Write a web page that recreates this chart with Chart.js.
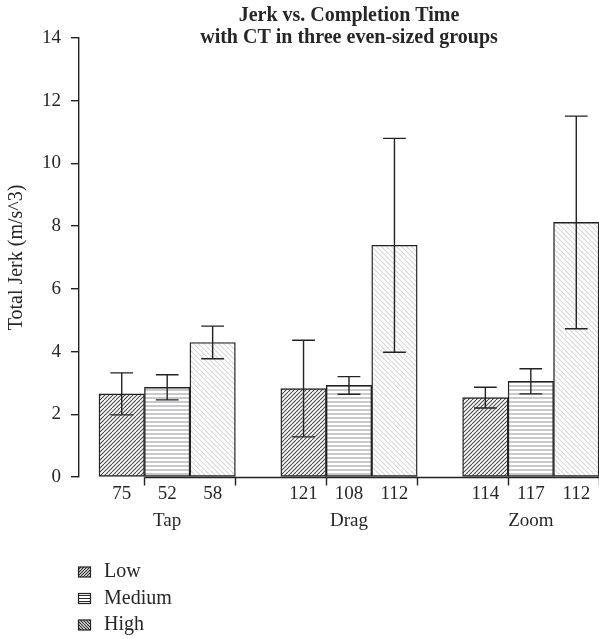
<!DOCTYPE html>
<html>
<head>
<meta charset="utf-8">
<script src="https://cdn.jsdelivr.net/npm/chart.js@4.4.1/dist/chart.umd.min.js"></script>
<style>
  html, body { margin: 0; padding: 0; background: #fff; overflow: hidden; }
  #wrap { width: 599px; height: 639px; overflow: hidden; position: relative; }
  canvas { display: block; }
</style>
</head>
<body>
<div id="wrap"><canvas id="c" width="619" height="639"></canvas></div>
<script>
// ---------------- data ----------------
const groups = ['Tap', 'Drag', 'Zoom'];
const levels = ['Low', 'Medium', 'High'];
const lowMeans    = [2.65, 2.82, 2.53];
const mediumMeans = [2.86, 2.92, 3.05];
const highMeans   = [4.29, 7.39, 8.12];
const lowErrors    = [0.67, 1.54, 0.33];
const mediumErrors = [0.40, 0.28, 0.40];
const highErrors   = [0.52, 3.41, 3.39];
const lowCounts    = [75, 121, 114];
const mediumCounts = [52, 108, 117];
const highCounts   = [58, 112, 112];
const yMin = 0, yMax = 14, yStep = 2;
const titleLines = ['Jerk vs. Completion Time', 'with CT in three even-sized groups'];
const yTitle = 'Total Jerk (m/s^3)';

// ---------------- helpers ----------------
const FONT = 'Liberation Serif';
const TEXT = '#262626';
const LINE = '#222';
const means = [lowMeans, mediumMeans, highMeans];
const errors = [lowErrors, mediumErrors, highErrors];
const counts = [lowCounts, mediumCounts, highCounts];
const slot = (gi, li) => gi * (levels.length + 1) + li + 1;

const positions = [];
const labelMap = {};
groups.forEach((g, gi) => levels.forEach((l, li) => {
  const p = slot(gi, li);
  positions.push(p);
  labelMap[p] = li === 1 ? [String(counts[li][gi]), g] : String(counts[li][gi]);
}));
positions.sort((a, b) => a - b);
const boundaries = [];
groups.forEach((g, gi) => { boundaries.push(slot(gi, 0) + 0.5, slot(gi, levels.length - 1) + 0.5); });
const firstEdge = slot(0, 0) - 0.5, lastEdge = slot(groups.length - 1, levels.length - 1) + 0.5;
const xPad = 0.04 * (lastEdge - firstEdge);

const baseCtx = document.getElementById('c').getContext('2d');
function makeHatch(kind, period, color, width, size) {
  const S = size || period * 2;
  const t = document.createElement('canvas');
  t.width = S; t.height = S;
  const c = t.getContext('2d');
  c.fillStyle = '#fff'; c.fillRect(0, 0, S, S);
  c.strokeStyle = color; c.lineWidth = width;
  c.beginPath();
  if (kind === 'h') {
    for (let y = period / 2; y < S + period; y += period) { c.moveTo(0, y); c.lineTo(S, y); }
  } else if (kind === '/') {
    for (let k = -S; k <= 3 * S; k += period) { c.moveTo(k, 0); c.lineTo(k - S, S); }
  } else {
    for (let k = -2 * S; k <= 2 * S; k += period) { c.moveTo(k, 0); c.lineTo(k + S, S); }
  }
  c.stroke();
  return baseCtx.createPattern(t, 'repeat');
}
const barPatterns = [
  makeHatch('/', 4, '#4d4d4d', 1.1, 8),
  makeHatch('h', 4, '#b8b8bc', 1.3, 8),
  makeHatch('\\', 5, '#d6d6d6', 1.1, 10)
];
const legendPatterns = [
  makeHatch('/', 3, '#2a2a2a', 1.2, 6),
  makeHatch('h', 3, '#2a2a2a', 1.1, 6),
  makeHatch('\\', 3, '#2a2a2a', 1.2, 6)
];

const datasets = levels.map((l, li) => ({
  label: l,
  data: groups.map((g, gi) => ({ x: slot(gi, li), y: means[li][gi] })),
  errors: errors[li],
  backgroundColor: barPatterns[li],
  borderColor: LINE,
  borderWidth: 1.4,
  borderSkipped: false,
  grouped: false,
  barPercentage: 1,
  categoryPercentage: 1
}));

// ---------------- plugins ----------------
const errorBars = {
  id: 'errorBars',
  afterDatasetsDraw(chart) {
    const { ctx, scales: { x, y } } = chart;
    const capHalf = x.getPixelForValue(positions[0] + 0.25) - x.getPixelForValue(positions[0]);
    ctx.save();
    ctx.strokeStyle = LINE; ctx.lineWidth = 1.4;
    chart.data.datasets.forEach((ds, di) => {
      chart.getDatasetMeta(di).data.forEach((bar, i) => {
        const m = ds.data[i].y, e = ds.errors[i];
        const px = bar.x, yt = y.getPixelForValue(m + e), yb = y.getPixelForValue(m - e);
        ctx.beginPath();
        ctx.moveTo(px, yt); ctx.lineTo(px, yb);
        ctx.moveTo(px - capHalf, yt); ctx.lineTo(px + capHalf, yt);
        ctx.moveTo(px - capHalf, yb); ctx.lineTo(px + capHalf, yb);
        ctx.stroke();
      });
    });
    ctx.restore();
  }
};

const xAxisLine = {
  id: 'xAxisLine',
  afterDatasetsDraw(chart) {
    const { ctx, scales: { x, y } } = chart;
    const y0 = Math.round(y.getPixelForValue(0)) + 0.5;
    ctx.save();
    ctx.strokeStyle = LINE; ctx.lineWidth = 1.4;
    ctx.beginPath();
    ctx.moveTo(x.getPixelForValue(boundaries[0]), y0);
    ctx.lineTo(x.getPixelForValue(boundaries[boundaries.length - 1]), y0);
    boundaries.forEach(b => {
      const px = Math.round(x.getPixelForValue(b)) + 0.5;
      ctx.moveTo(px, y0); ctx.lineTo(px, y0 + 8);
    });
    ctx.stroke();
    ctx.restore();
  }
};

const boxLegend = {
  id: 'boxLegend',
  afterDraw(chart) {
    const { ctx, chartArea } = chart;
    ctx.save();
    ctx.font = '20px "' + FONT + '"';
    ctx.textBaseline = 'middle';
    ctx.textAlign = 'left';
    chart.data.datasets.forEach((ds, i) => {
      const cy = chart.height - 67 + i * 26.5;
      const bx = chartArea.left - 0.5;
      ctx.fillStyle = legendPatterns[i];
      ctx.fillRect(bx, cy - 5, 12, 10);
      ctx.strokeStyle = LINE; ctx.lineWidth = 1.2;
      ctx.strokeRect(bx, cy - 5, 12, 10);
      ctx.fillStyle = TEXT;
      ctx.fillText(ds.label, chartArea.left + 25, cy);
    });
    ctx.restore();
  }
};

// ---------------- chart ----------------
new Chart(document.getElementById('c'), {
  type: 'bar',
  data: { datasets },
  options: {
    responsive: false,
    devicePixelRatio: 1,
    animation: false,
    events: [],
    layout: { padding: { left: 0, right: 0, top: 0, bottom: 102 } },
    plugins: {
      legend: { display: false },
      tooltip: { enabled: false },
      title: {
        display: true,
        text: titleLines,
        fullSize: false,
        color: TEXT,
        font: { family: FONT, size: 20, weight: 'bold', lineHeight: 1.1 },
        padding: { top: 5, bottom: -11 }
      }
    },
    scales: {
      x: {
        type: 'linear',
        min: firstEdge - xPad,
        max: lastEdge + xPad,
        offset: false,
        afterBuildTicks: s => { s.ticks = positions.map(v => ({ value: v })); },
        ticks: {
          autoSkip: false, maxRotation: 0, minRotation: 0, padding: 3.5,
          color: TEXT,
          font: { family: FONT, size: 19, lineHeight: 1.42 },
          callback: v => labelMap[v] !== undefined ? labelMap[v] : ''
        },
        grid: { display: false, drawTicks: false, offset: false },
        border: { display: false },
        afterFit: s => { s.height = 60; }
      },
      y: {
        min: yMin, max: yMax,
        ticks: {
          stepSize: yStep, padding: 10, color: TEXT,
          font: { family: FONT, size: 19 }
        },
        grid: { drawOnChartArea: false, tickLength: 8, color: LINE, lineWidth: 1.4 },
        border: { color: LINE, width: 1.4 },
        title: {
          display: true, text: yTitle, color: TEXT,
          font: { family: FONT, size: 20 },
          padding: { top: 5, bottom: 0 }
        },
        afterFit: s => { s.width = 79; }
      }
    }
  },
  plugins: [errorBars, xAxisLine, boxLegend]
});
</script>
</body>
</html>
